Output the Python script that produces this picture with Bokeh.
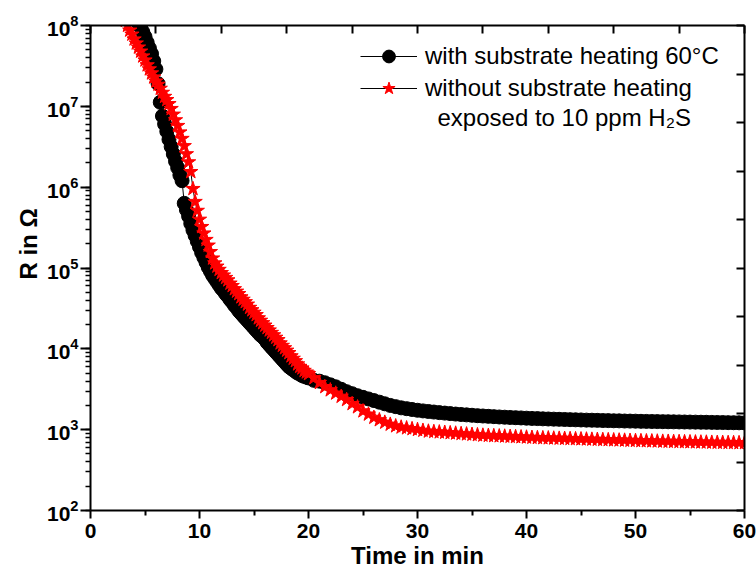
from bokeh.plotting import figure
from bokeh.models import (Range1d, LinearAxis, LinearScale, FixedTicker, LogTicker,
                          Legend, LegendItem, Label, CustomJSTickFormatter)
from bokeh.embed import file_html
from bokeh.resources import INLINE

# ---------------- data ----------------
# time samples in minutes
time_flat = [20.5, 21.0, 21.5, 22.0, 22.5, 23.0, 23.5, 24.0, 24.5, 25.0,
             25.5, 26.0, 26.5, 27.0, 27.5, 28.0, 28.5, 29.0, 29.5, 30.0,
             30.5, 31.0, 31.5, 32.0, 32.5, 33.0, 33.5, 34.0, 34.5, 35.0,
             35.5, 36.0, 36.5, 37.0, 37.5, 38.0, 38.5, 39.0, 39.5, 40.0,
             40.5, 41.0, 41.5, 42.0, 42.5, 43.0, 43.5, 44.0, 44.5, 45.0,
             45.5, 46.0, 46.5, 47.0, 47.5, 48.0, 48.5, 49.0, 49.5, 50.0,
             50.5, 51.0, 51.5, 52.0, 52.5, 53.0, 53.5, 54.0, 54.5, 55.0,
             55.5, 56.0, 56.5, 57.0, 57.5, 58.0, 58.5, 59.0, 59.5, 60.0]

black_time_steep = [4.2, 4.4, 4.6, 4.8, 5.0, 5.2, 5.4, 5.6, 5.8, 6.0,
                    6.2, 6.4, 6.6, 6.8, 7.0, 7.2, 7.4, 7.6, 7.8, 8.0,
                    8.2, 8.4, 8.6, 8.8, 9.0, 9.2, 9.4, 9.6, 9.8, 10.0,
                    10.2, 10.4, 10.6, 10.8, 11.0, 11.2, 11.4, 11.6, 11.8, 12.0,
                    12.2, 12.4, 12.6, 12.8, 13.0, 13.2, 13.4, 13.6, 13.8, 14.0,
                    14.2, 14.4, 14.6, 14.8, 15.0, 15.2, 15.4, 15.6, 15.8, 16.0,
                    16.2, 16.4, 16.6, 16.8, 17.0, 17.2, 17.4, 17.6, 17.8, 18.0,
                    18.2, 18.4, 18.6, 18.8, 19.0, 19.2, 19.4, 19.6, 19.8, 20.0]

red_time_steep = [3.2, 3.4, 3.6, 3.8, 4.0] + black_time_steep

# log10 of R (Ohm), with substrate heating 60 C
black_log10_R_steep = [8.10, 8.03, 7.98, 7.92, 7.86, 7.79, 7.72, 7.65, 7.56, 7.46,
                       7.28, 7.05, 6.88, 6.78, 6.69, 6.59, 6.50, 6.41, 6.32, 6.24,
                       6.15, 6.08, 5.80, 5.72, 5.64, 5.55, 5.47, 5.40, 5.33, 5.26,
                       5.19, 5.13, 5.07, 5.01, 4.96, 4.91, 4.87, 4.83, 4.79, 4.75,
                       4.72, 4.68, 4.65, 4.61, 4.58, 4.54, 4.51, 4.47, 4.44, 4.41,
                       4.38, 4.35, 4.32, 4.29, 4.26, 4.23, 4.20, 4.17, 4.15, 4.12,
                       4.08, 4.05, 4.02, 3.99, 3.96, 3.93, 3.90, 3.87, 3.84, 3.81,
                       3.78, 3.76, 3.74, 3.72, 3.70, 3.69, 3.67, 3.66, 3.65, 3.64]
black_log10_R_flat = [3.61, 3.60, 3.58, 3.555, 3.53, 3.50, 3.47, 3.445, 3.42, 3.40,
                      3.38, 3.36, 3.34, 3.32, 3.30, 3.285, 3.27, 3.26, 3.25, 3.24,
                      3.232, 3.225, 3.218, 3.211, 3.205, 3.199, 3.193, 3.188, 3.183, 3.178,
                      3.173, 3.169, 3.165, 3.161, 3.157, 3.154, 3.151, 3.148, 3.145, 3.142,
                      3.139, 3.137, 3.134, 3.132, 3.130, 3.128, 3.126, 3.124, 3.122, 3.120,
                      3.118, 3.117, 3.115, 3.113, 3.112, 3.110, 3.109, 3.107, 3.106, 3.105,
                      3.103, 3.102, 3.101, 3.100, 3.099, 3.098, 3.097, 3.096, 3.095, 3.094,
                      3.093, 3.092, 3.091, 3.090, 3.089, 3.088, 3.087, 3.086, 3.085, 3.084]

# log10 of R (Ohm), without substrate heating
red_log10_R_steep = [8.06, 8.00, 7.94, 7.89, 7.83,
                     7.78, 7.73, 7.68, 7.62, 7.57, 7.51, 7.46, 7.41, 7.36, 7.31,
                     7.27, 7.22, 7.17, 7.12, 7.08, 7.03, 6.97, 6.90, 6.83, 6.76,
                     6.68, 6.60, 6.51, 6.41, 6.31, 6.19, 5.98, 5.82, 5.71, 5.60,
                     5.51, 5.43, 5.35, 5.28, 5.20, 5.12, 5.06, 5.02, 4.98, 4.94,
                     4.91, 4.88, 4.85, 4.81, 4.78, 4.74, 4.71, 4.68, 4.64, 4.61,
                     4.58, 4.55, 4.51, 4.48, 4.45, 4.42, 4.38, 4.35, 4.32, 4.29,
                     4.26, 4.23, 4.20, 4.17, 4.14, 4.11, 4.07, 4.04, 4.01, 3.98,
                     3.95, 3.91, 3.88, 3.85, 3.81, 3.78, 3.76, 3.73, 3.71, 3.69]
red_log10_R_flat = [3.64, 3.58, 3.53, 3.49, 3.45, 3.41, 3.37, 3.32, 3.28, 3.23,
                    3.19, 3.15, 3.12, 3.09, 3.065, 3.045, 3.03, 3.02, 3.01, 3.00,
                    2.99, 2.98, 2.975, 2.97, 2.965, 2.96, 2.955, 2.95, 2.945, 2.94,
                    2.935, 2.93, 2.927, 2.924, 2.921, 2.918, 2.915, 2.912, 2.909, 2.906,
                    2.903, 2.900, 2.898, 2.896, 2.894, 2.892, 2.890, 2.888, 2.886, 2.884,
                    2.882, 2.880, 2.878, 2.876, 2.874, 2.872, 2.870, 2.868, 2.866, 2.864,
                    2.862, 2.860, 2.859, 2.857, 2.855, 2.854, 2.852, 2.851, 2.849, 2.848,
                    2.846, 2.845, 2.844, 2.842, 2.841, 2.840, 2.839, 2.838, 2.837, 2.836]

series_labels = ["with substrate heating 60\u00b0C", "without substrate heating"]
legend_note = "exposed to 10 ppm H\u2082S"
x_title = "Time in min"
y_title = "R in \u03a9"
x_ticks = [0, 10, 20, 30, 40, 50, 60]
x_minor_ticks = [5, 15, 25, 35, 45, 55]
frame_divisions = [0, 1, 2, 3, 4, 5, 6, 7, 8, 9, 10]

black_time = black_time_steep + time_flat
black_R = [10 ** v for v in black_log10_R_steep + black_log10_R_flat]
red_time = red_time_steep + time_flat
red_R = [10 ** v for v in red_log10_R_steep + red_log10_R_flat]

FONT = "Liberation Sans"

p = figure(width=756, height=577, x_range=Range1d(0, 60), y_range=Range1d(1e2, 1e8),
           y_axis_type="log", output_backend="svg", toolbar_location=None,
           min_border_left=90, min_border_right=12, min_border_top=25, min_border_bottom=67)
p.xgrid.visible = False
p.ygrid.visible = False
p.outline_line_color = None
p.background_fill_color = "white"
p.border_fill_color = "white"

# data
bl_line = p.line(black_time, black_R, line_color="black", line_width=1)
bl_sc = p.scatter(black_time, black_R, marker="circle", size=14,
                  fill_color="black", line_color="black")
rd_line = p.line(red_time, red_R, line_color="black", line_width=1)
rd_sc = p.scatter(red_time, red_R, marker="star", size=15,
                  fill_color="red", line_color="red")

# bottom axis
xa = p.xaxis[0]
xa.ticker = FixedTicker(ticks=x_ticks, minor_ticks=x_minor_ticks)
xa.axis_label = x_title
xa.axis_label_text_font = FONT
xa.axis_label_text_font_style = "bold"
xa.axis_label_text_font_size = "24px"
xa.axis_label_text_color = "black"
xa.axis_label_standoff = 1
xa.major_label_text_font = FONT
xa.major_label_text_font_style = "bold"
xa.major_label_text_font_size = "21px"
xa.major_label_text_color = "black"
xa.major_label_standoff = 5
xa.major_tick_out = 8
xa.major_tick_in = 0
xa.minor_tick_out = 5
xa.minor_tick_in = 0
xa.axis_line_width = 2
xa.major_tick_line_width = 2
xa.minor_tick_line_width = 2

# left axis
ya = p.yaxis[0]
ya.ticker = LogTicker(num_minor_ticks=10)
ya.axis_label = "\u2003\u2003" + y_title
ya.axis_label_text_font = FONT
ya.axis_label_text_font_style = "bold"
ya.axis_label_text_font_size = "24px"
ya.axis_label_text_color = "black"
ya.axis_label_standoff = 2
ya.major_label_text_font = FONT
ya.major_label_text_font_style = "bold"
ya.major_label_text_font_size = "21px"
ya.major_label_text_color = "black"
ya.major_label_standoff = 2
ya.major_tick_out = 10
ya.major_tick_in = 0
ya.minor_tick_out = 5
ya.minor_tick_in = 0
ya.axis_line_width = 2
ya.major_tick_line_width = 2
ya.minor_tick_line_width = 1.5

# top and right frame axes (ticks only, no labels)
p.extra_x_ranges = {"top_frame": Range1d(0, 10)}
p.extra_y_ranges = {"right_frame": Range1d(0, 10)}
p.extra_x_scales = {"top_frame": LinearScale()}
p.extra_y_scales = {"right_frame": LinearScale()}
for name, side in (("top_frame", "above"), ("right_frame", "right")):
    kw = {"x_range_name": name} if side == "above" else {"y_range_name": name}
    ax = LinearAxis(ticker=FixedTicker(ticks=frame_divisions, minor_ticks=[]),
                    formatter=CustomJSTickFormatter(code="return ''"), **kw)
    ax.major_label_text_font_size = "1px"
    ax.major_label_standoff = 0
    ax.major_tick_in = 8
    ax.major_tick_out = 0
    ax.minor_tick_in = 0
    ax.minor_tick_out = 0
    ax.axis_line_width = 2
    ax.major_tick_line_width = 2
    p.add_layout(ax, side)

# legend
legend = Legend(items=[LegendItem(label=series_labels[0], renderers=[bl_line, bl_sc]),
                       LegendItem(label=series_labels[1], renderers=[rd_line, rd_sc])],
                location=(270, 406), glyph_width=57, glyph_height=32, label_standoff=8,
                spacing=0, padding=0, margin=0, border_line_color=None,
                background_fill_alpha=0, label_text_font=FONT, label_text_font_size="24px",
                label_text_color="black", label_text_baseline="middle")
p.add_layout(legend)
p.add_layout(Label(x=347, y=393, x_units="screen", y_units="screen", text=legend_note,
                   text_align="left", text_baseline="middle", text_color="black",
                   text_font=FONT, text_font_size="24px"))

open("out.html", "w").write(file_html(p, INLINE))
